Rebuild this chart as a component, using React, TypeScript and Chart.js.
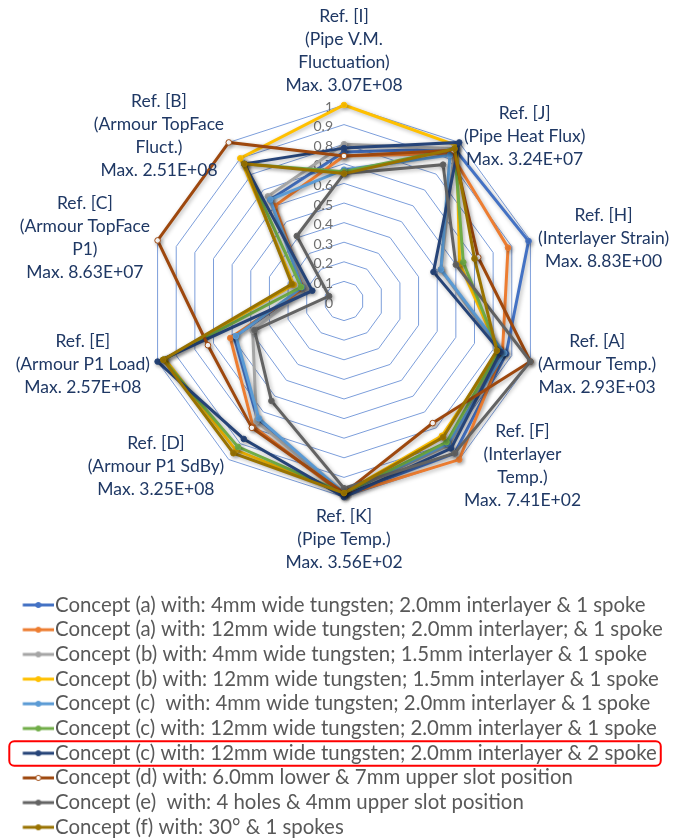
import React, { useEffect, useRef } from 'react';
import { Chart, registerables } from 'chart.js';

Chart.register(...registerables);

// ---------- data ----------
const axisLabels: string[][] = [
  ['Ref. [I]', '(Pipe V.M.', 'Fluctuation)', 'Max. 3.07E+08'],
  ['Ref. [J]', '(Pipe Heat Flux)', 'Max. 3.24E+07'],
  ['Ref. [H]', '(Interlayer Strain)', 'Max. 8.83E+00'],
  ['Ref. [A]', '(Armour Temp.)', 'Max. 2.93E+03'],
  ['Ref. [F]', '(Interlayer', 'Temp.)', 'Max. 7.41E+02'],
  ['Ref. [K]', '(Pipe Temp.)', 'Max. 3.56E+02'],
  ['Ref. [D]', '(Armour P1 SdBy)', 'Max. 3.25E+08'],
  ['Ref. [E]', '(Armour P1 Load)', 'Max. 2.57E+08'],
  ['Ref. [C]', '(Armour TopFace', 'P1)', 'Max. 8.63E+07'],
  ['Ref. [B]', '(Armour TopFace', 'Fluct.)', 'Max. 2.51E+08'],
];

const seriesNames: string[] = [
  'Concept (a) with: 4mm wide tungsten; 2.0mm interlayer & 1 spoke',
  'Concept (a) with: 12mm wide tungsten; 2.0mm interlayer; & 1 spoke',
  'Concept (b) with: 4mm wide tungsten; 1.5mm interlayer & 1 spoke',
  'Concept (b) with: 12mm wide tungsten; 1.5mm interlayer & 1 spoke',
  'Concept (c)  with: 4mm wide tungsten; 2.0mm interlayer & 1 spoke',
  'Concept (c) with: 12mm wide tungsten; 2.0mm interlayer & 1 spoke',
  'Concept (c) with: 12mm wide tungsten; 2.0mm interlayer & 2 spoke',
  'Concept (d) with: 6.0mm lower & 7mm upper slot position',
  'Concept (e)  with: 4 holes & 4mm upper slot position',
  'Concept (f) with: 30° & 1 spokes',
];

// axis order: I, J, H, A, F, K, D, E, C, B
const conceptA4: number[] = [0.76, 0.96, 0.99, 0.87, 0.96, 0.99, 0.75, 0.59, 0.21, 0.64];
const conceptA12: number[] = [0.74, 0.93, 0.88, 0.85, 1.0, 0.99, 0.79, 0.61, 0.21, 0.60];
const conceptB4: number[] = [0.80, 0.96, 0.52, 0.84, 0.91, 0.98, 0.76, 0.49, 0.20, 0.66];
const conceptB12: number[] = [1.0, 0.98, 0.62, 0.83, 0.85, 0.98, 0.94, 0.96, 0.27, 0.90];
const conceptC4: number[] = [0.67, 0.92, 0.52, 0.86, 0.90, 0.98, 0.74, 0.58, 0.225, 0.64];
const conceptC12: number[] = [0.66, 0.96, 0.64, 0.83, 0.89, 0.98, 0.92, 0.97, 0.23, 0.865];
const conceptC12s2: number[] = [0.78, 1.0, 0.48, 0.84, 0.93, 1.0, 0.87, 1.0, 0.17, 0.865];
const conceptD: number[] = [0.74, 0.95, 0.72, 1.0, 0.77, 0.98, 0.80, 0.73, 1.0, 1.0];
const conceptE: number[] = [0.65, 0.86, 0.60, 1.0, 0.96, 0.955, 0.63, 0.48, 0.08, 0.41];
const conceptF: number[] = [0.65, 0.96, 0.70, 0.82, 0.86, 0.98, 0.96, 0.97, 0.28, 0.865];

const seriesValues: number[][] = [
  conceptA4, conceptA12, conceptB4, conceptB12, conceptC4,
  conceptC12, conceptC12s2, conceptD, conceptE, conceptF,
];

const seriesColors: string[] = [
  '#4472C4', '#ED7D31', '#A5A5A5', '#FFC000', '#5B9BD5',
  '#70AD47', '#264478', '#9E480E', '#636363', '#997300',
];
const hollowMarker: boolean[] = [false, false, false, false, false, false, false, true, false, false];

const tickValues: number[] = [0, 0.1, 0.2, 0.3, 0.4, 0.5, 0.6, 0.7, 0.8, 0.9, 1];
const highlightedSeries = 6;

// ---------- layout constants ----------
const W = 690;
const H = 838;
const FONT = 'Lato, "Noto Sans", sans-serif';
const LEGEND_FONT = 20.4;
const LEGEND_PAD = 4.3;
const LEGEND_BOX = 40.5;
const LABEL_FONT = 17.5;
const LABEL_LINE = 23;

function makeIcon(color: string, hollow: boolean): HTMLCanvasElement {
  const c = document.createElement('canvas');
  c.width = 58;
  c.height = 10;
  const g = c.getContext('2d')!;
  g.strokeStyle = color;
  g.lineWidth = 3;
  g.beginPath();
  g.moveTo(27.2, 5);
  g.lineTo(58, 5);
  g.stroke();
  g.beginPath();
  g.arc(42.8, 5, 2.6, 0, Math.PI * 2);
  g.fillStyle = hollow ? '#ffffff' : color;
  g.fill();
  g.lineWidth = 1;
  g.stroke();
  return c;
}

const shadowPlugin = {
  id: 'excelShadow',
  beforeDatasetDraw(chart: any) {
    const ctx = chart.ctx;
    ctx.save();
    ctx.shadowColor = 'rgba(0,0,0,0.30)';
    ctx.shadowBlur = 4;
    ctx.shadowOffsetX = 1.5;
    ctx.shadowOffsetY = 1.5;
  },
  afterDatasetDraw(chart: any) {
    chart.ctx.restore();
  },
};

const decorPlugin = {
  id: 'decor',
  beforeDatasetsDraw(chart: any) {
    const scale = chart.scales.r;
    const ctx = chart.ctx;
    ctx.save();
    ctx.font = `14px ${FONT}`;
    ctx.fillStyle = '#6f6f6f';
    ctx.textAlign = 'right';
    ctx.textBaseline = 'middle';
    tickValues.forEach((v) => {
      const d = scale.getDistanceFromCenterForValue(v);
      ctx.fillText(String(v), scale.xCenter - 11, scale.yCenter - d + 2);
    });
    ctx.restore();
  },
  afterDraw(chart: any) {
    const scale = chart.scales.r;
    const ctx = chart.ctx;
    const n = axisLabels.length;
    ctx.save();
    ctx.font = `${LABEL_FONT}px ${FONT}`;
    ctx.fillStyle = '#1F3864';
    ctx.textAlign = 'center';
    ctx.textBaseline = 'middle';
    axisLabels.forEach((lines, i) => {
      const pos = scale.getPointPosition(i, scale.drawingArea + 8);
      const ang = (i * 360) / n;
      const w = Math.max(...lines.map((l) => ctx.measureText(l).width));
      const h = lines.length * LABEL_LINE;
      let cx: number;
      let top: number;
      if (ang === 0) {
        cx = pos.x;
        top = pos.y - h;
      } else if (ang === 180) {
        cx = pos.x;
        top = pos.y;
      } else if (ang < 180) {
        cx = pos.x + w / 2;
        top = pos.y - h / 2;
      } else {
        cx = pos.x - w / 2;
        top = pos.y - h / 2;
      }
      lines.forEach((l, k) => ctx.fillText(l, cx, top + LABEL_LINE * (k + 0.5)));
    });
    ctx.restore();

    // highlight box around one legend entry
    const hb = chart.legend && chart.legend.legendHitBoxes && chart.legend.legendHitBoxes[highlightedSeries];
    if (hb) {
      const x0 = hb.left + 5;
      const x1 = hb.left + hb.width + 4;
      const cy = hb.top + LEGEND_FONT / 2;
      const y0 = cy - 12;
      const y1 = cy + 12.5;
      const r = 5;
      ctx.save();
      ctx.strokeStyle = '#FF0000';
      ctx.lineWidth = 2;
      ctx.beginPath();
      ctx.moveTo(x0 + r, y0);
      ctx.lineTo(x1 - r, y0);
      ctx.arcTo(x1, y0, x1, y0 + r, r);
      ctx.lineTo(x1, y1 - r);
      ctx.arcTo(x1, y1, x1 - r, y1, r);
      ctx.lineTo(x0 + r, y1);
      ctx.arcTo(x0, y1, x0, y1 - r, r);
      ctx.lineTo(x0, y0 + r);
      ctx.arcTo(x0, y0, x0 + r, y0, r);
      ctx.closePath();
      ctx.stroke();
      ctx.restore();
    }
  },
};

export default function App() {
  const ref = useRef<HTMLCanvasElement | null>(null);

  useEffect(() => {
    document.body.style.margin = '0';
    const canvas = ref.current;
    if (!canvas) return;
    const icons = seriesColors.map((c, i) => makeIcon(c, hollowMarker[i]));

    const datasets = seriesNames.map((name, i) => ({
      label: name,
      data: seriesValues[i],
      borderColor: seriesColors[i],
      backgroundColor: seriesColors[i],
      borderWidth: 3,
      fill: false,
      tension: 0,
      pointRadius: 2.8,
      pointBorderWidth: 1,
      pointBorderColor: seriesColors[i],
      pointBackgroundColor: hollowMarker[i] ? '#ffffff' : seriesColors[i],
      order: seriesNames.length - i,
    }));

    const chart = new Chart(canvas, {
      type: 'radar',
      data: {
        labels: axisLabels.map((l) => l.join(' ')),
        datasets,
      },
      options: {
        responsive: false,
        animation: false,
        devicePixelRatio: 1,
        font: { family: FONT },
        layout: { padding: { top: 105, bottom: -9.5, left: 0, right: 2 } },
        scales: {
          r: {
            min: 0,
            max: 1,
            ticks: { stepSize: 0.1, display: false },
            grid: { color: '#7C9EDB', lineWidth: 1, circular: false },
            angleLines: { display: false },
            pointLabels: { display: false },
          },
        },
        plugins: {
          tooltip: { enabled: false },
          legend: {
            position: 'bottom',
            align: 'start',
            title: {
              display: true,
              text: '',
              font: { size: 10, lineHeight: 1 },
              padding: { top: 83.5, bottom: 0 },
            },
            labels: {
              usePointStyle: true,
              pointStyleWidth: LEGEND_BOX,
              padding: LEGEND_PAD,
              color: '#595959',
              font: { size: LEGEND_FONT, family: FONT },
              generateLabels: (ch: any) =>
                ch.data.datasets.map((ds: any, i: number) => ({
                  text: ds.label,
                  fillStyle: ds.borderColor,
                  strokeStyle: ds.borderColor,
                  fontColor: '#595959',
                  lineWidth: 0,
                  hidden: false,
                  pointStyle: icons[i],
                  datasetIndex: i,
                })),
            },
          },
        },
      } as any,
      plugins: [shadowPlugin, decorPlugin],
    });

    return () => chart.destroy();
  }, []);

  return (
    <div style={{ width: W, height: H }}>
      <canvas ref={ref} width={W} height={H} style={{ display: 'block', width: W, height: H }} />
    </div>
  );
}
